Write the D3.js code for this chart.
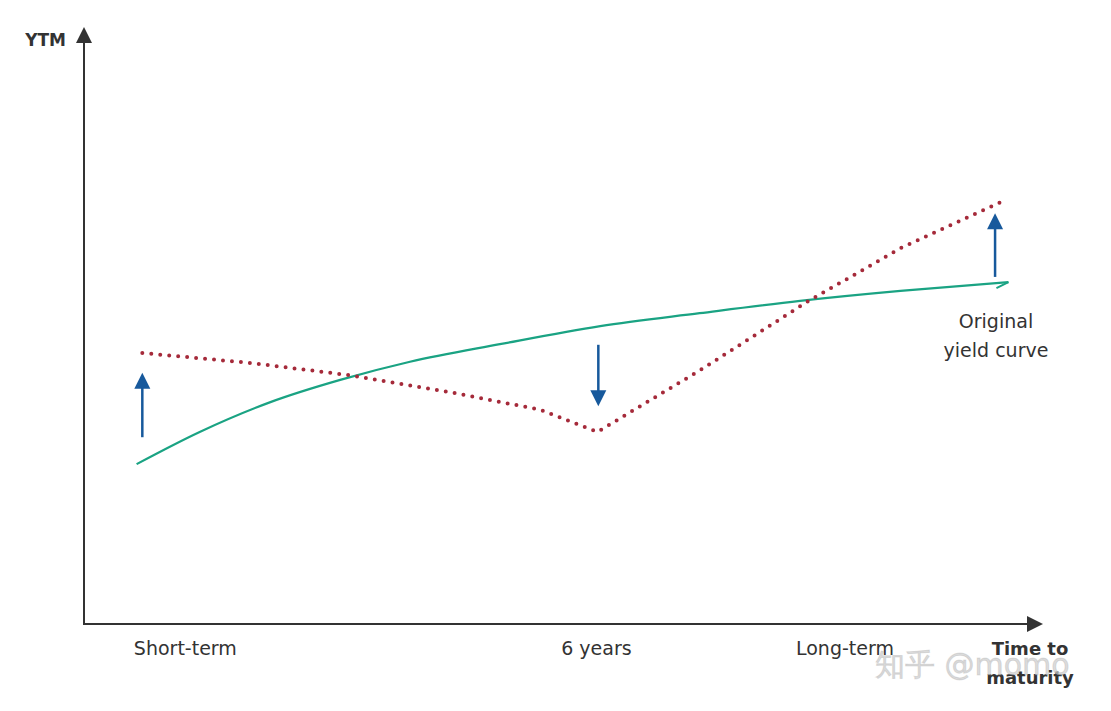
<!DOCTYPE html>
<html><head><meta charset="utf-8">
<script src="https://cdn.jsdelivr.net/npm/d3@7"></script>
<style>body{margin:0;background:#fff}text{font-family:"DejaVu Sans",sans-serif}</style>
</head><body><svg id="c" width="1111" height="711"></svg>
<script>
const greenX=[5.5,12.1,19.5,26.8,34.1,43.5,54.0,64.4,74.9,85.4,96.7];
const greenY=[27.5,33.0,38.1,41.9,45.0,48.0,51.1,53.3,55.4,57.1,58.6];
const redX=[6.1,17.4,27.8,38.3,47.7,53.7,64.4,75.6,85.4,96.3];
const redY=[46.5,44.8,42.7,39.8,36.8,33.0,43.5,55.2,64.4,72.6];
const arrowX=[6.1,53.8,95.3];
const arrowFrom=[32.1,47.9,59.5];
const arrowTo=[43.1,37.4,70.4];
const xLabels=["Short-term","6 years","Long-term"];
const xLabelPos=[10.6,53.6,79.6];

const svg=d3.select("#c");
const x=d3.scaleLinear().domain([0,100]).range([84,1040]);
const y=d3.scaleLinear().domain([0,100]).range([625,40]);
const axc="#333";
svg.append("line").attr("x1",84).attr("y1",625).attr("x2",84).attr("y2",42).attr("stroke",axc).attr("stroke-width",2);
svg.append("path").attr("d","M84,27 L76,43 L92,43Z").attr("fill",axc);
svg.append("line").attr("x1",83).attr("y1",624).attr("x2",1028).attr("y2",624).attr("stroke",axc).attr("stroke-width",2);
svg.append("path").attr("d","M1043,624 L1027,616 L1027,632Z").attr("fill",axc);
svg.append("text").attr("x",66).attr("y",46).attr("text-anchor","end").attr("font-weight","bold").attr("font-size",17).attr("fill",axc).text("YTM");
xLabels.forEach((t,i)=>svg.append("text").attr("x",x(xLabelPos[i])).attr("y",655).attr("text-anchor","middle").attr("font-size",19).attr("fill",axc).text(t));
svg.append("text").attr("x",1030).attr("y",655).attr("text-anchor","middle").attr("font-weight","bold").attr("font-size",18).attr("fill",axc).text("Time to");
svg.append("text").attr("x",1030).attr("y",684).attr("text-anchor","middle").attr("font-weight","bold").attr("font-size",18).attr("fill",axc).text("maturity");
svg.append("text").attr("x",996).attr("y",328).attr("text-anchor","middle").attr("font-size",19).attr("fill",axc).text("Original");
svg.append("text").attr("x",996).attr("y",357).attr("text-anchor","middle").attr("font-size",19).attr("fill",axc).text("yield curve");
const line=d3.line().x(d=>x(d[0])).y(d=>y(d[1])).curve(d3.curveMonotoneX);
svg.append("path").attr("d",line(greenX.map((v,i)=>[v,greenY[i]]))).attr("fill","none").attr("stroke","#1aa383").attr("stroke-width",2.2);
const gl=greenX.length-1;
svg.append("line").attr("x1",x(greenX[gl])).attr("y1",y(greenY[gl])).attr("x2",x(greenX[gl])-12).attr("y2",y(greenY[gl])+6).attr("stroke","#1aa383").attr("stroke-width",2);
const lin=d3.line().x(d=>x(d[0])).y(d=>y(d[1])).curve(d3.curveLinear);
svg.append("path").attr("d",lin(redX.map((v,i)=>[v,redY[i]]))).attr("fill","none").attr("stroke","#a52a3a").attr("stroke-width",4).attr("stroke-linecap","round").attr("stroke-dasharray","0 9");
arrowX.forEach((ax,i)=>{
  const px=x(ax),y0=y(arrowFrom[i]),y1=y(arrowTo[i]);
  const dir=y1<y0?1:-1;
  svg.append("line").attr("x1",px).attr("y1",y0).attr("x2",px).attr("y2",y1+dir*14).attr("stroke","#17599c").attr("stroke-width",2.5);
  svg.append("path").attr("d",`M${px},${y1} L${px-8},${y1+dir*16} L${px+8},${y1+dir*16}Z`).attr("fill","#17599c");
});
svg.append("text").attr("x",875).attr("y",675).attr("font-size",30).attr("fill","#ccc").attr("fill-opacity",0.7).attr("stroke","#999").attr("stroke-opacity",0.25).attr("font-family","Noto Sans CJK SC").text("知乎 @momo");
</script></body></html>
